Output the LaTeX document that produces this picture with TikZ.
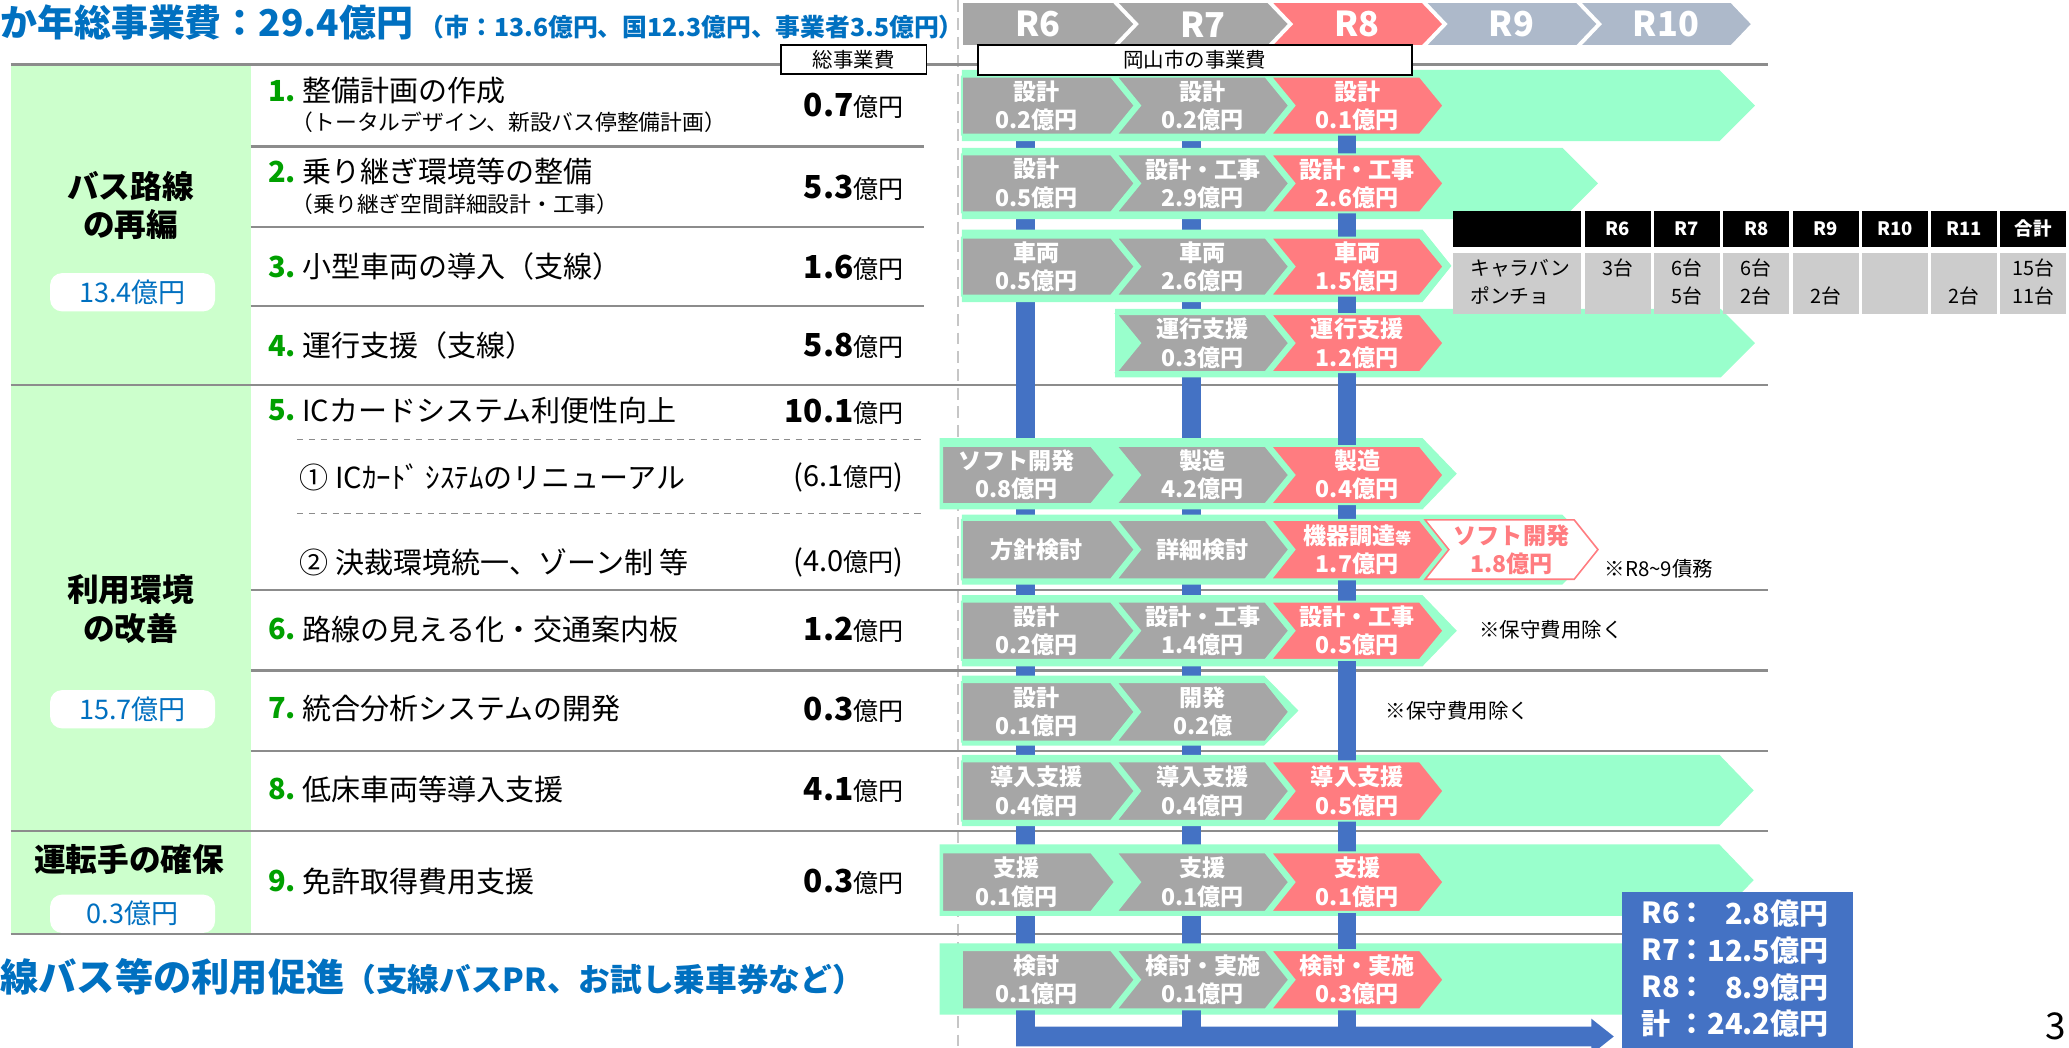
\documentclass[tikz,border=0pt]{standalone}
\usepackage{fontspec}
\setmainfont{Noto Sans CJK JP}
\definecolor{titleblue}{HTML}{0070C0}
\definecolor{numgreen}{HTML}{00A000}
\definecolor{catgreen}{HTML}{CCFFCC}
\definecolor{mint}{HTML}{99FFCC}
\definecolor{chgrey}{HTML}{A6A6A6}
\definecolor{chpink}{HTML}{FF7C80}
\definecolor{chslate}{HTML}{ADB9CA}
\definecolor{barblue}{HTML}{4472C4}
\definecolor{cellgrey}{HTML}{CCCCCC}
\definecolor{sepgrey}{HTML}{8C8C8C}
\newcommand{\fsz}[2]{\fontsize{#1pt}{#2pt}\selectfont}
\newcommand{\chevron}[7]{\path[#1] (#2,#4) -- (#3,#4) -- ({#3+#7},{(#4+#5)/2}) -- (#3,#5) -- (#2,#5) -- ({#2+#6},{(#4+#5)/2}) -- cycle;}
\newcommand{\ic}[8]{%
  \pgfmathsetmacro{\icR}{#3+113}%
  \chevron{#1}{#3}{\icR}{#5}{#6}{#4}{18}%
  \node[#2] (#7) at ({(#3+#4+\icR)/2},{(#5+#6)/2}) {#8};%
}
\newcommand{\amt}[1]{{\bfseries\fsz{24}{28}#1}{\fsz{19}{22}億円}}
\newcommand{\pamt}[1]{{\fsz{22}{26}(#1}{\fsz{19}{22}億円}{\fsz{22}{26})}}
\tikzset{
  sepline/.style={draw=sepgrey, line width=1.8pt},
  dashsep/.style={draw=sepgrey, line width=1.2pt, dash pattern=on 5pt off 4pt},
  vdash/.style={draw=gray!45, line width=1pt, dash pattern=on 9pt off 5pt},
  cattext/.style={align=center, font=\bfseries\fsz{24}{29}, inner sep=0pt},
  catbox/.style={fill=white, rounded corners=9pt, minimum width=125pt, minimum height=29pt, text=titleblue, font=\fsz{20.5}{24}, inner sep=0pt},
  itemnum/.style={anchor=west, inner sep=0pt, text=numgreen, font=\bfseries\fsz{22}{26}},
  itemtxt/.style={anchor=west, inner sep=0pt, font=\fsz{22}{26}},
  itemsub/.style={anchor=west, inner sep=0pt, font=\fsz{16.5}{20}},
  amount/.style={anchor=east, inner sep=0pt},
  band/.style={fill=mint},
  greych/.style={fill=chgrey, draw=mint, line width=1.5pt},
  pinkch/.style={fill=chpink, draw=mint, line width=1.5pt},
  softch/.style={fill=white, draw=chpink, line width=1.2pt},
  chtext/.style={text=white, align=center, font=\bfseries\fsz{17.5}{21.5}, inner sep=0pt},
  softtext/.style={text=chpink, align=center, font=\bfseries\fsz{17.5}{21.5}, inner sep=0pt},
  hdrgrey/.style={fill=chgrey, draw=white, line width=1.5pt},
  hdrpink/.style={fill=chpink, draw=white, line width=1.5pt},
  hdrslate/.style={fill=chslate, draw=white, line width=1.5pt},
  hdrtext/.style={text=white, font=\bfseries\fsz{26}{30}, inner sep=0pt},
  labbox/.style={draw=black, line width=1.2pt, fill=white, inner sep=0pt, font=\fsz{15.5}{18}},
  tabhead/.style={text=white, font=\bfseries\fsz{14}{17}, inner sep=0pt},
  tabtxt/.style={font=\fsz{15}{18}, inner sep=0pt},
  note/.style={anchor=west, font=\fsz{15.5}{18}, inner sep=0pt},
  boxlab/.style={anchor=west, text=white, font=\bfseries\fsz{22}{26}, inner sep=0pt},
  boxcol/.style={text=white, font=\bfseries\fsz{22}{26}, inner sep=0pt},
  boxamt/.style={anchor=east, text=white, font=\bfseries\fsz{22}{26}, inner sep=0pt},
}
\begin{document}
\begin{tikzpicture}[x=1pt,y=-1pt]
\useasboundingbox (0,0) rectangle (1568,794);
\fill[white] (0,0) rectangle (1568,794);
% dashed vertical divider
\coordinate (dtop) at (726,0); \coordinate (dbot) at (726,794);
\draw[vdash] (dtop) -- (dbot);
% category column
\fill[catgreen] (8,50) rectangle (190,707);
\node[cattext] (cat1) at (99,155.5) {バス路線\\の再編};
\node[catbox] (cat1amt) at (100.5,221.5) {13.4億円};
\node[cattext] (cat2) at (99,461.5) {利用環境\\の改善};
\node[catbox] (cat2amt) at (100.5,537.5) {15.7億円};
\node[cattext] (cat3) at (98,651) {運転手の確保};
\node[catbox] (cat3amt) at (100.5,692.5) {0.3億円};
% separator lines
\draw[sepline] (8,49) -- (1340,49);
\draw[sepline] (190,111) -- (700,111);
\draw[sepline] (190,172) -- (700,172);
\draw[sepline] (190,232) -- (700,232);
\draw[sepline] (8,292) -- (1340,292);
\draw[dashsep] (225,333) -- (700,333);
\draw[dashsep] (225,389) -- (700,389);
\draw[sepline] (190,447) -- (1340,447);
\draw[sepline] (190,508) -- (1340,508);
\draw[sepline] (190,569) -- (1340,569);
\draw[sepline] (8,630) -- (1340,630);
\draw[sepline] (8,708) -- (1340,708);
% items
\node[itemnum] (n1) at (203,69) {1.};
\node[itemtxt] (t1) at (229,69) {整備計画の作成};
\node[itemsub] (s1) at (221,93) {（トータルデザイン、新設バス停整備計画）};
\node[amount] (a1) at (685,80) {\amt{0.7}};
\node[itemnum] (n2) at (203,130) {2.};
\node[itemtxt] (t2) at (229,130) {乗り継ぎ環境等の整備};
\node[itemsub] (s2) at (221,155) {（乗り継ぎ空間詳細設計・工事）};
\node[amount] (a2) at (685,142) {\amt{5.3}};
\node[itemnum] (n3) at (203,202) {3.};
\node[itemtxt] (t3) at (229,202) {小型車両の導入（支線）};
\node[amount] (a3) at (685,203) {\amt{1.6}};
\node[itemnum] (n4) at (203,262) {4.};
\node[itemtxt] (t4) at (229,262) {運行支援（支線）};
\node[amount] (a4) at (685,262) {\amt{5.8}};
\node[itemnum] (n5) at (203,311) {5.};
\node[itemtxt] (t5) at (229,311) {ICカードシステム利便性向上};
\node[amount] (a5) at (685,312) {\amt{10.1}};
\node[itemtxt] (t5a) at (227,362) {①\hspace{5pt}ICｶｰﾄﾞ\hspace{4pt}ｼｽﾃﾑのリニューアル};
\node[amount] (a5a) at (685,362) {\pamt{6.1}};
\node[itemtxt] (t5b) at (227,426) {②\hspace{5pt}決裁環境統一、ゾーン制 等};
\node[amount] (a5b) at (685,426) {\pamt{4.0}};
\node[itemnum] (n6) at (203,477) {6.};
\node[itemtxt] (t6) at (229,477) {路線の見える化・交通案内板};
\node[amount] (a6) at (685,477) {\amt{1.2}};
\node[itemnum] (n7) at (203,537) {7.};
\node[itemtxt] (t7) at (229,537) {統合分析システムの開発};
\node[amount] (a7) at (685,538) {\amt{0.3}};
\node[itemnum] (n8) at (203,598) {8.};
\node[itemtxt] (t8) at (229,598) {低床車両等導入支援};
\node[amount] (a8) at (685,599) {\amt{4.1}};
\node[itemnum] (n9) at (203,668) {9.};
\node[itemtxt] (t9) at (229,668) {免許取得費用支援};
\node[amount] (a9) at (685,668) {\amt{0.3}};
% blue bars behind bands
\fill[barblue] (770,100) rectangle (784,786);
\fill[barblue] (896,100) rectangle (910,786);
% bands
\chevron{band}{729}{1303}{53}{107}{0}{27}
\chevron{band}{729}{1184}{112}{166}{0}{27}
\chevron{band}{729}{1078}{174}{229}{0}{22}
\chevron{band}{845}{1304}{234}{286}{0}{26}
\chevron{band}{712}{1078}{332}{386}{0}{26}
\chevron{band}{729}{1184}{390}{443}{0}{26}
\chevron{band}{729}{1078}{451}{505}{0}{26}
\chevron{band}{729}{958}{512}{565}{0}{26}
\chevron{band}{729}{1303}{572}{626}{0}{26}
\chevron{band}{712}{1303}{640}{694}{0}{26}
\chevron{band}{712}{1303}{715}{769}{0}{26}
% front bars and arrow
\fill[barblue] (1014,101) rectangle (1028,786);
\fill[barblue] (770,764) rectangle (784,786);
\fill[barblue] (896,764) rectangle (910,786);
\fill[barblue] (770,778) -- (1206,778) -- (1206,772) -- (1223,785.5) -- (1206,799) -- (1206,793) -- (770,793) -- cycle;
% inner chevrons
\ic{greych}{chtext}{729}{0}{58}{102}{r1a}{設計\\0.2億円}
\ic{greych}{chtext}{846}{18}{58}{102}{r1b}{設計\\0.2億円}
\ic{pinkch}{chtext}{963}{18}{58}{102}{r1c}{設計\\0.1億円}
\ic{greych}{chtext}{729}{0}{117}{161}{r2a}{設計\\0.5億円}
\ic{greych}{chtext}{846}{18}{117}{161}{r2b}{設計・工事\\2.9億円}
\ic{pinkch}{chtext}{963}{18}{117}{161}{r2c}{設計・工事\\2.6億円}
\ic{greych}{chtext}{729}{0}{180}{224}{r3a}{車両\\0.5億円}
\ic{greych}{chtext}{846}{18}{180}{224}{r3b}{車両\\2.6億円}
\ic{pinkch}{chtext}{963}{18}{180}{224}{r3c}{車両\\1.5億円}
\ic{greych}{chtext}{846}{18}{238}{282}{r4b}{運行支援\\0.3億円}
\ic{pinkch}{chtext}{963}{18}{238}{282}{r4c}{運行支援\\1.2億円}
\ic{greych}{chtext}{714}{0}{338}{382}{r5a}{ソフト開発\\0.8億円}
\ic{greych}{chtext}{846}{18}{338}{382}{r5b}{製造\\4.2億円}
\ic{pinkch}{chtext}{963}{18}{338}{382}{r5c}{製造\\0.4億円}
\ic{greych}{chtext}{729}{0}{394}{439}{r6a}{方針検討}
\ic{greych}{chtext}{846}{18}{394}{439}{r6b}{詳細検討}
\ic{pinkch}{chtext}{963}{18}{394}{439}{r6c}{機器調達{\fsz{12}{14}等}\\1.7億円}
\ic{softch}{softtext}{1080}{18}{394}{439}{r6d}{ソフト開発\\1.8億円}
\ic{greych}{chtext}{729}{0}{456}{500}{r7a}{設計\\0.2億円}
\ic{greych}{chtext}{846}{18}{456}{500}{r7b}{設計・工事\\1.4億円}
\ic{pinkch}{chtext}{963}{18}{456}{500}{r7c}{設計・工事\\0.5億円}
\ic{greych}{chtext}{729}{0}{517}{562}{r8a}{設計\\0.1億円}
\ic{greych}{chtext}{846}{18}{517}{562}{r8b}{開発\\0.2億}
\ic{greych}{chtext}{729}{0}{577}{622}{r9a}{導入支援\\0.4億円}
\ic{greych}{chtext}{846}{18}{577}{622}{r9b}{導入支援\\0.4億円}
\ic{pinkch}{chtext}{963}{18}{577}{622}{r9c}{導入支援\\0.5億円}
\ic{greych}{chtext}{714}{0}{646}{691}{r10a}{支援\\0.1億円}
\ic{greych}{chtext}{846}{18}{646}{691}{r10b}{支援\\0.1億円}
\ic{pinkch}{chtext}{963}{18}{646}{691}{r10c}{支援\\0.1億円}
\ic{greych}{chtext}{729}{0}{720}{765}{r11a}{検討\\0.1億円}
\ic{greych}{chtext}{846}{18}{720}{765}{r11b}{検討・実施\\0.1億円}
\ic{pinkch}{chtext}{963}{18}{720}{765}{r11c}{検討・実施\\0.3億円}
% header chevrons
\chevron{hdrgrey}{729}{844}{1.5}{35}{0}{16}
\chevron{hdrgrey}{846}{961}{1.5}{35}{16}{16}
\chevron{hdrpink}{963}{1078}{1.5}{35}{16}{16}
\chevron{hdrslate}{1080}{1195}{1.5}{35}{16}{16}
\chevron{hdrslate}{1197}{1312}{1.5}{35}{16}{16}
\node[hdrtext] (h6) at (786.5,18.5) {R6};
\node[hdrtext] (h7) at (911.5,18.5) {R7};
\node[hdrtext] (h8) at (1028.5,18.5) {R8};
\node[hdrtext] (h9) at (1145.5,18.5) {R9};
\node[hdrtext] (h10) at (1262.5,18.5) {R10};
\node[labbox, minimum width=329pt, minimum height=23pt] (oka) at (905.5,45.5) {岡山市の事業費};
\node[labbox, minimum width=110pt, minimum height=22pt] (sou) at (647,45) {総事業費};
% vehicle table
\fill[black] (1101,160) rectangle (1198,187);
\fill[cellgrey] (1101,192) rectangle (1198,238);
\foreach \lab [count=\k from 0] in {R6,R7,R8,R9,R10,R11,合計} {
  \pgfmathsetmacro{\cx}{1201+52.5*\k}
  \fill[black] (\cx,160) rectangle ++(50,27);
  \fill[cellgrey] (\cx,192) rectangle ++(50,46);
  \node[tabhead] (th\k) at (\cx+25,173.5) {\lab};
}
\node[tabtxt, anchor=west] (tk1) at (1114,203) {キャラバン};
\node[tabtxt, anchor=west] (tk2) at (1114,224) {ポンチョ};
\node[tabtxt] (v61) at (1226,203) {3台};
\node[tabtxt] (v71) at (1278.5,203) {6台};
\node[tabtxt] (v72) at (1278.5,224) {5台};
\node[tabtxt] (v81) at (1331,203) {6台};
\node[tabtxt] (v82) at (1331,224) {2台};
\node[tabtxt] (v92) at (1383.5,224) {2台};
\node[tabtxt] (v112) at (1488.5,224) {2台};
\node[tabtxt] (vt1) at (1541,203) {15台};
\node[tabtxt] (vt2) at (1541,224) {11台};
% notes
\node[note] (note1) at (1216,431) {※R8\textasciitilde9債務};
\node[note] (note2) at (1121,477) {※保守費用除く};
\node[note] (note3) at (1050,539) {※保守費用除く};
% yearly totals box
\fill[barblue] (1229,676) rectangle (1404,800);
\node[boxlab] (bl1) at (1244,692) {R6};
\node[boxcol] (bc1) at (1282,692) {：};
\node[boxamt] (ba1) at (1386,692) {2.8億円};
\node[boxlab] (bl2) at (1244,720) {R7};
\node[boxcol] (bc2) at (1282,720) {：};
\node[boxamt] (ba2) at (1386,720) {12.5億円};
\node[boxlab] (bl3) at (1244,748) {R8};
\node[boxcol] (bc3) at (1282,748) {：};
\node[boxamt] (ba3) at (1386,748) {8.9億円};
\node[boxlab] (bl4) at (1244,776) {計};
\node[boxcol] (bc4) at (1282,776) {：};
\node[boxamt] (ba4) at (1386,776) {24.2億円};
% titles
\node[anchor=west, inner sep=0pt, text=titleblue, font=\bfseries] (title) at (0,17) {{\fsz{28}{32}か年総事業費：29.4億円}\hspace{5pt}{\fsz{18.8}{22}（市：13.6億円、国12.3億円、事業者3.5億円）}};
\node[anchor=west, inner sep=0pt, text=titleblue, font=\bfseries] (promo) at (0,740) {{\fsz{29}{32}線バス等の利用促進}{\fsz{24}{27}（支線バスPR、お試し乗車券など）}};
\node[anchor=west, inner sep=0pt, font=\fsz{28}{32}] (page) at (1550,778) {3};
\end{tikzpicture}
\end{document}
